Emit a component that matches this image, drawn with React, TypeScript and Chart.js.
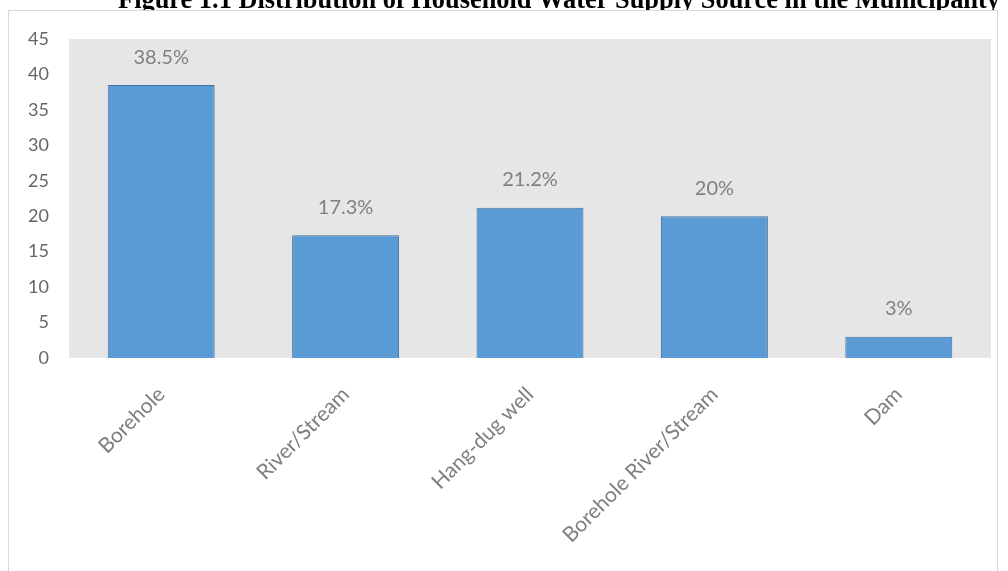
import React, { useEffect, useRef } from "react";
import { Chart, registerables } from "chart.js";

Chart.register(...registerables);

const categories = ["Borehole", "River/Stream", "Hang-dug well", "Borehole River/Stream", "Dam"];
const values = [38.5, 17.3, 21.2, 20, 3];
const valueLabels = ["38.5%", "17.3%", "21.2%", "20%", "3%"];
const yTicks = [0, 5, 10, 15, 20, 25, 30, 35, 40, 45];
const titleText = "Figure 1.1 Distribution of Household Water Supply Source in the Municipality";

const framePlugin = {
  id: "frame",
  beforeDraw(chart: any) {
    const ctx = chart.ctx;
    ctx.save();
    ctx.fillStyle = "#ffffff";
    ctx.fillRect(0, 0, chart.width, chart.height);
    ctx.font = "bold 20px 'Liberation Serif'";
    const w20 = ctx.measureText(titleText).width;
    const size = (20 * 882) / w20;
    ctx.font = `bold ${size.toFixed(2)}px 'Liberation Serif'`;
    ctx.fillStyle = "#000000";
    ctx.textAlign = "center";
    ctx.textBaseline = "alphabetic";
    ctx.fillText(titleText, 559, 8);
    ctx.fillStyle = "#ffffff";
    ctx.fillRect(8, 10, 989, chart.height);
    ctx.strokeStyle = "#d9d9d9";
    ctx.lineWidth = 1;
    ctx.strokeRect(8.5, 10.5, 989, chart.height + 5);
    const a = chart.chartArea;
    ctx.fillStyle = "#e7e6e6";
    ctx.fillRect(a.left, a.top, a.right - a.left, a.bottom - a.top);
    ctx.restore();
  },
};

const labelPlugin = {
  id: "valueLabels",
  afterDatasetsDraw(chart: any) {
    const ctx = chart.ctx;
    const meta = chart.getDatasetMeta(0);
    ctx.save();
    ctx.font = "20px Lato";
    ctx.fillStyle = "#808080";
    ctx.textAlign = "center";
    ctx.textBaseline = "middle";
    meta.data.forEach((bar: any, i: number) => {
      ctx.fillText(valueLabels[i], bar.x, bar.y - 28);
    });
    ctx.restore();
  },
};

export default function App() {
  const ref = useRef<HTMLCanvasElement>(null);
  useEffect(() => {
    if (!ref.current) return;
    const chart = new Chart(ref.current, {
      type: "bar",
      data: {
        labels: categories,
        datasets: [
          {
            data: values,
            backgroundColor: "#5b9bd5",
            borderColor: "#41719c",
            borderWidth: 1,
            categoryPercentage: 1,
            barPercentage: 0.58,
          },
        ],
      },
      options: {
        animation: false,
        responsive: false,
        layout: { padding: { top: 39, right: 17, left: 0, bottom: 0 } },
        plugins: { legend: { display: false }, tooltip: { enabled: false }, title: { display: false } },
        scales: {
          x: {
            grid: { display: false, drawTicks: false },
            border: { display: false },
            ticks: {
              minRotation: 45,
              maxRotation: 45,
              padding: 24,
              color: "#7f7f7f",
              font: { family: "Lato", size: 21 },
            },
            afterFit(scale: any) {
              scale.height = 213;
            },
          },
          y: {
            min: 0,
            max: 45,
            afterBuildTicks(scale: any) {
              scale.ticks = yTicks.map((v) => ({ value: v }));
            },
            grid: { display: false, drawTicks: false },
            border: { display: false },
            ticks: {
              padding: 20,
              color: "#666666",
              font: { family: "Lato", size: 18 },
            },
            afterFit(scale: any) {
              scale.width = 69;
            },
          },
        },
      },
      plugins: [framePlugin, labelPlugin],
    });
    return () => chart.destroy();
  }, []);
  return (
    <div style={{ position: "fixed", left: 0, top: 0, width: 1008, height: 571, background: "#fff" }}>
      <canvas ref={ref} width={1008} height={571} style={{ display: "block" }} />
    </div>
  );
}
